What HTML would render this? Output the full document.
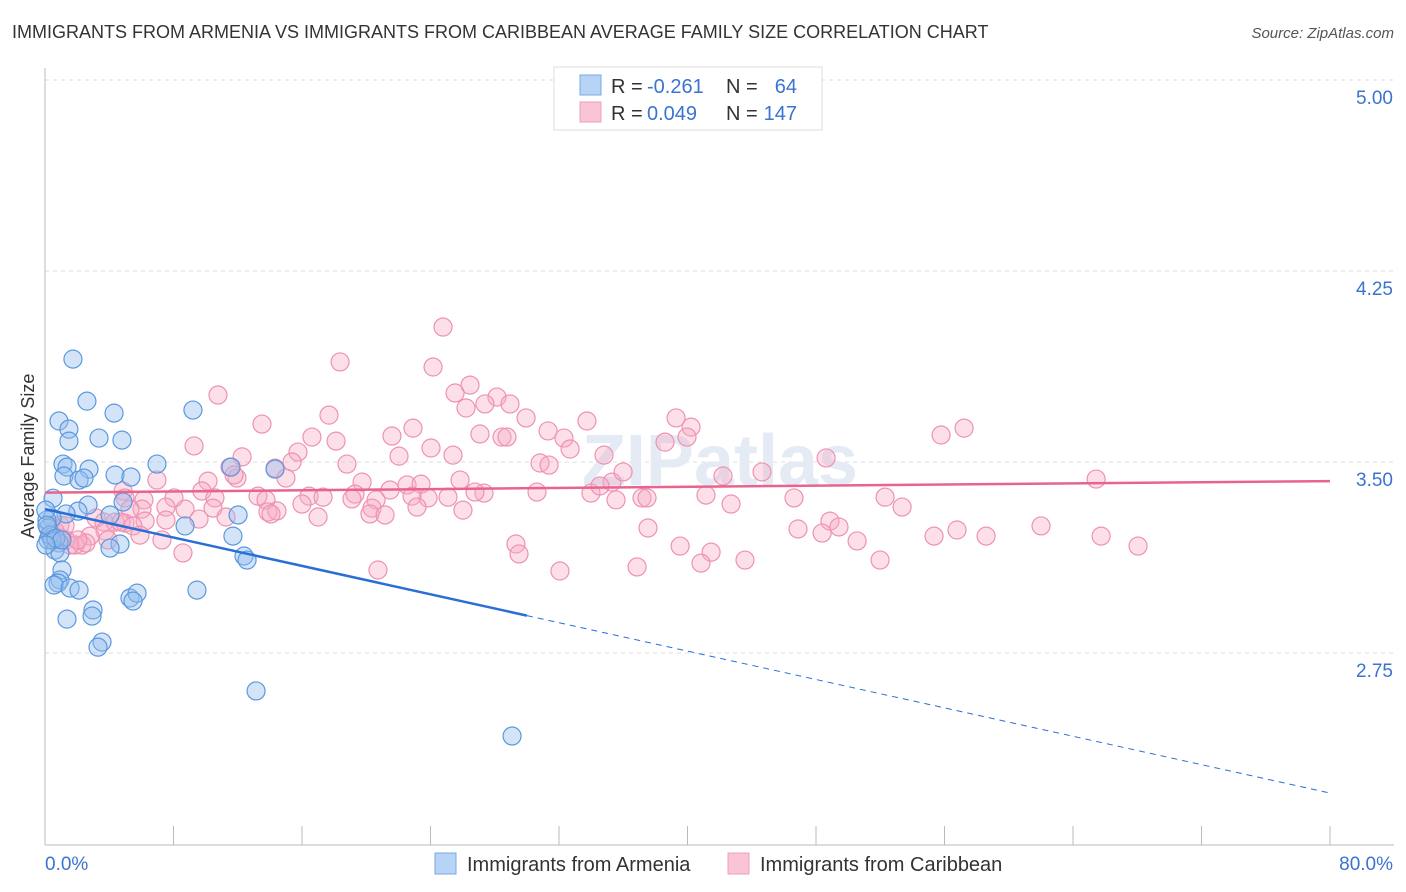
<!DOCTYPE html>
<html><head><meta charset="utf-8">
<style>
body{margin:0;background:#fff;font-family:"Liberation Sans",sans-serif;}
#wrap{position:relative;width:1406px;height:892px;overflow:hidden;}
.t{position:absolute;white-space:nowrap;}
</style></head>
<body>
<div id="wrap">
<div class="t" style="left:12px;top:22px;font-size:18px;color:#333;">IMMIGRANTS FROM ARMENIA VS IMMIGRANTS FROM CARIBBEAN AVERAGE FAMILY SIZE CORRELATION CHART</div>
<div class="t" style="right:12px;top:25px;font-size:15px;color:#555;font-style:italic;">Source: ZipAtlas.com</div>
<svg id="chart" width="1406" height="892" style="position:absolute;left:0;top:0"></svg>
</div>
<script>
const yTicks=[5.00,4.25,3.50,2.75];
const xTickLabels=["0.0%","80.0%"];
const armeniaX=[1.74,2.61,9.21,4.30,0.87,1.49,3.36,4.79,1.49,1.12,6.97,11.58,14.32,2.74,1.37,1.18,4.36,5.35,2.12,2.43,0.50,2.68,4.86,2.05,1.31,4.05,12.02,0.44,8.72,0.19,0.19,11.70,0.87,4.67,4.05,0.62,0.93,12.39,12.58,1.06,0.93,0.81,0.56,1.56,2.12,9.46,5.29,5.73,5.48,2.99,2.93,1.37,3.55,3.30,13.14,29.08,0.12,0.31,0.44,0.05,0.12,0.68,1.06,0.06];
const armeniaY=[3.904,3.739,3.704,3.692,3.661,3.629,3.594,3.586,3.582,3.492,3.492,3.480,3.472,3.472,3.480,3.445,3.449,3.441,3.429,3.437,3.358,3.331,3.343,3.307,3.296,3.292,3.292,3.280,3.249,3.241,3.194,3.209,3.182,3.178,3.162,3.154,3.143,3.131,3.115,3.076,3.037,3.025,3.017,3.005,2.997,2.997,2.966,2.985,2.954,2.919,2.895,2.883,2.793,2.773,2.601,2.424,3.272,3.213,3.194,3.311,3.252,3.201,3.194,3.174];
const caribX=[24.78,18.37,24.16,10.77,26.46,28.14,25.53,28.95,26.21,27.39,17.68,13.51,22.91,29.95,33.74,39.29,40.22,31.32,32.31,39.97,38.60,48.63,55.79,57.22,21.60,16.62,18.12,24.03,27.08,28.45,28.76,25.40,15.75,9.28,12.27,15.38,18.80,22.04,32.69,34.80,30.82,31.38,14.32,11.52,35.30,35.99,42.21,44.64,65.44,6.97,10.15,11.95,15.00,11.77,19.74,22.54,21.48,23.41,25.84,27.33,30.63,33.99,34.55,13.26,13.76,8.03,9.77,10.58,6.16,4.86,4.98,19.30,19.11,16.44,17.31,16.00,20.61,20.36,23.85,25.09,22.85,26.77,37.17,37.48,35.55,41.15,42.71,46.63,52.30,53.36,10.46,8.72,6.04,7.53,5.29,6.23,4.98,3.18,3.67,4.36,4.73,5.48,3.74,2.80,7.53,9.59,11.27,13.88,14.44,14.07,17.00,20.23,21.17,23.16,26.02,48.87,49.43,46.88,48.38,50.56,55.35,56.78,58.59,62.01,65.75,68.05,37.54,29.32,29.51,39.54,41.47,40.84,36.86,43.58,51.99,32.06,20.73,8.59,7.28,5.91,2.30,1.31,0.93,1.87,0.62,1.56,2.55,1.00,2.05,3.92,0.31,0.62,1.25];
const caribY=[4.030,3.893,3.873,3.763,3.802,3.755,3.771,3.728,3.712,3.728,3.684,3.649,3.633,3.673,3.661,3.673,3.637,3.622,3.594,3.598,3.578,3.516,3.606,3.633,3.602,3.598,3.582,3.555,3.610,3.598,3.598,3.527,3.539,3.563,3.520,3.500,3.492,3.523,3.551,3.527,3.496,3.488,3.476,3.480,3.421,3.461,3.445,3.461,3.433,3.429,3.425,3.437,3.437,3.449,3.421,3.410,3.390,3.413,3.429,3.378,3.382,3.378,3.406,3.366,3.351,3.359,3.386,3.359,3.351,3.386,3.359,3.374,3.355,3.366,3.362,3.335,3.351,3.319,3.359,3.362,3.366,3.382,3.359,3.359,3.351,3.370,3.335,3.359,3.362,3.323,3.319,3.315,3.315,3.323,3.315,3.268,3.260,3.280,3.264,3.264,3.264,3.249,3.229,3.209,3.272,3.276,3.284,3.304,3.308,3.296,3.284,3.296,3.292,3.323,3.311,3.268,3.245,3.237,3.221,3.190,3.209,3.233,3.209,3.249,3.209,3.170,3.241,3.178,3.139,3.170,3.146,3.103,3.088,3.115,3.115,3.072,3.076,3.143,3.194,3.213,3.174,3.194,3.252,3.174,3.194,3.174,3.182,3.201,3.194,3.194,3.25,3.23,3.25];
const armeniaTrend=[3.315,2.2];   // value at 0% and 80%
const armeniaSolidEnd=30;        // % where solid segment ends
const caribTrend=[3.38,3.425];

const X0=45,X1=1330,Y5=80,PXV=254.67;
const sx=v=>X0+(v/80)*(X1-X0);
const sy=v=>Y5+(5-v)*PXV;
const svg=document.getElementById('chart');
const NS='http://www.w3.org/2000/svg';
function mk(tag,attrs,name,inter){const e=document.createElementNS(NS,tag);for(const k in attrs)e.setAttribute(k,attrs[k]);


svg.appendChild(e);return e;}

yTicks.forEach(v=>{
  const g=mk('line',{x1:X0,x2:1394,y1:sy(v),y2:sy(v),stroke:'#ddd','stroke-dasharray':'4,4'},'y-gridline',false);
  const t=mk('text',{x:1393,y:sy(v)+24,'text-anchor':'end','font-size':19,fill:'#3b73d1','font-family':'Liberation Sans, sans-serif'},'y-tick-label',false);
  t.textContent=v.toFixed(2);
});
mk('line',{x1:X0,x2:X0,y1:68,y2:845,stroke:'#bbb'},'y-axis-line',false);
mk('line',{x1:X0,x2:1394,y1:845,y2:845,stroke:'#bbb'},'x-axis-line',false);
for(let i=0;i<=10;i++){const x=X0+i*128.5;
  mk('line',{x1:x,x2:x,y1:826,y2:845,stroke:'#bbb'},'x-tick',false);}
let tl=mk('text',{x:45,y:870,'font-size':19,fill:'#3b73d1','font-family':'Liberation Sans, sans-serif'},'x-tick-label-min',false);tl.textContent=xTickLabels[0];
tl=mk('text',{x:1393,y:870,'text-anchor':'end','font-size':19,fill:'#3b73d1','font-family':'Liberation Sans, sans-serif'},'x-tick-label-max',false);tl.textContent=xTickLabels[1];
tl=mk('text',{x:34,y:456,'text-anchor':'middle','font-size':18,fill:'#333',transform:'rotate(-90 34 456)','font-family':'Liberation Sans, sans-serif'},'y-axis-title',false);tl.textContent='Average Family Size';
tl=mk('text',{x:720,y:485,'text-anchor':'middle','font-size':72,fill:'#e4ebf4','font-weight':'bold','font-family':'Liberation Sans, sans-serif'},'watermark',false);tl.textContent='ZIPatlas';

caribX.forEach((x,i)=>{mk('circle',{cx:sx(x),cy:sy(caribY[i]),r:9,fill:'rgba(246,170,196,0.38)',stroke:'#ee92b1','stroke-width':1.2},'caribbean-point',false);});
armeniaX.forEach((x,i)=>{mk('circle',{cx:sx(x),cy:sy(armeniaY[i]),r:9,fill:'rgba(150,190,238,0.42)',stroke:'#5a98de','stroke-width':1.2},'armenia-point',false);});

const aAt=p=>armeniaTrend[0]+(armeniaTrend[1]-armeniaTrend[0])*p/80;
mk('line',{x1:sx(0),y1:sy(aAt(0)),x2:sx(armeniaSolidEnd),y2:sy(aAt(armeniaSolidEnd)),stroke:'#2a6fd6','stroke-width':2.5},'armenia-trend-line',false);
mk('line',{x1:sx(armeniaSolidEnd),y1:sy(aAt(armeniaSolidEnd)),x2:sx(80),y2:sy(aAt(80)),stroke:'#2a6fd6','stroke-width':1,'stroke-dasharray':'6,5'},'armenia-trend-extension',false);
mk('line',{x1:sx(0),y1:sy(caribTrend[0]),x2:sx(80),y2:sy(caribTrend[1]),stroke:'#e8648f','stroke-width':2.5},'caribbean-trend-line',false);

// legend top
mk('rect',{x:554,y:67,width:268,height:63,fill:'#fff',stroke:'#ddd'},'stats-legend-box',false);
mk('rect',{x:580,y:75,width:21,height:20,fill:'#b7d3f6',stroke:'#7aaae6'},'armenia-swatch',false);
mk('rect',{x:580,y:102,width:21,height:20,fill:'#f9c5d6',stroke:'#f0a0ba'},'caribbean-swatch',false);
function txt(x,y,s,c,name,anchor){const t=mk('text',{x:x,y:y,'font-size':20,fill:c,'text-anchor':anchor||'start','font-family':'Liberation Sans, sans-serif'},name,false);t.textContent=s;}
txt(611,93,'R =','#333','armenia-r-label');txt(647,93,'-0.261','#3b73d1','armenia-r-value');
txt(726,93,'N =','#333','armenia-n-label');txt(797,93,'64','#3b73d1','armenia-n-value','end');
txt(611,120,'R =','#333','caribbean-r-label');txt(647,120,'0.049','#3b73d1','caribbean-r-value');
txt(726,120,'N =','#333','caribbean-n-label');txt(797,120,'147','#3b73d1','caribbean-n-value','end');
// bottom legend
mk('rect',{x:435,y:853,width:21,height:21,fill:'#b7d3f6',stroke:'#7aaae6'},'legend-armenia-swatch',true);
txt(467,871,'Immigrants from Armenia','#333','legend-armenia-label');
mk('rect',{x:728,y:853,width:21,height:21,fill:'#f9c5d6',stroke:'#f0a0ba'},'legend-caribbean-swatch',true);
txt(760,871,'Immigrants from Caribbean','#333','legend-caribbean-label');
</script>
</body></html>
